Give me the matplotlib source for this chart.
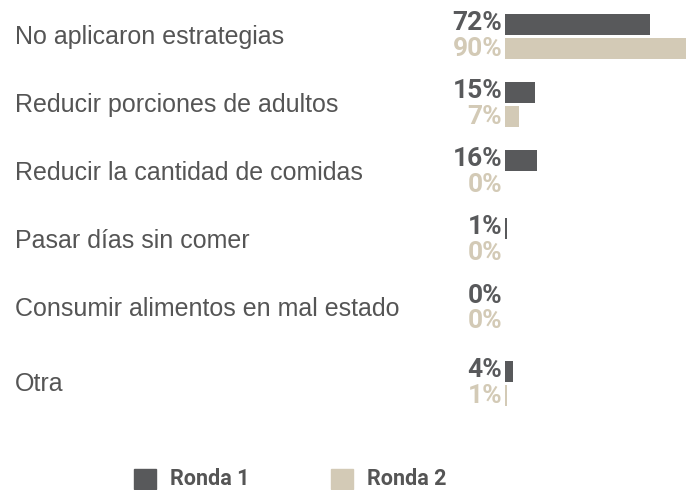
import matplotlib
matplotlib.use("Agg")
import matplotlib.pyplot as plt
from matplotlib.transforms import blended_transform_factory
from matplotlib.patches import Rectangle

categories = [
    "No aplicaron estrategias",
    "Reducir porciones de adultos",
    "Reducir la cantidad de comidas",
    "Pasar días sin comer",
    "Consumir alimentos en mal estado",
    "Otra",
]
ronda1 = [72, 15, 16, 1, 0, 4]
ronda2 = [90, 7, 0, 0, 0, 1]
series_names = ["Ronda 1", "Ronda 2"]

C1 = "#58595b"
C2 = "#d3cab6"
TXT = "#555555"

W, H = 695, 490
fig = plt.figure(figsize=(W / 100, H / 100), dpi=100)

row_px = 68.1
top_px = 24.5
ax = fig.add_axes([505 / W, 0, 201 / W, 1])
ax.set_xlim(0, 100)
ax.set_ylim((H - top_px) / row_px, -top_px / row_px)
ax.axis("off")

rows = [0, 1, 2, 3, 4, 5.1]
bh = 21 / row_px
off = 24 / row_px

ax.barh(rows, ronda1, height=bh, color=C1, align="center")
ax.barh([r + off for r in rows], ronda2, height=bh, color=C2, align="center")

for r, v1, v2 in zip(rows, ronda1, ronda2):
    ax.annotate(f"{v1}%", xy=(0, r), xytext=(-2, 1), textcoords="offset points",
                ha="right", va="center", fontsize=19, fontweight="bold",
                color=C1, family="Roboto")
    ax.annotate(f"{v2}%", xy=(0, r + off), xytext=(-2, 0), textcoords="offset points",
                ha="right", va="center", fontsize=19, fontweight="bold",
                color=C2, family="Roboto")

tr = blended_transform_factory(fig.transFigure, ax.transData)
for r, cat in zip(rows, categories):
    ax.text(15 / W, r + off / 2, cat, transform=tr, ha="left", va="center",
            fontsize=18, color=TXT, family="Liberation Sans")

for x0, c, name in [(134, C1, series_names[0]), (331, C2, series_names[1])]:
    fig.patches.append(Rectangle((x0 / W, (H - 489) / H), 22 / W, 20 / H,
                                 transform=fig.transFigure, color=c))
    fig.text((x0 + 36) / W, (H - 479) / H, name, ha="left", va="center",
             fontsize=15.5, fontweight="bold", color=TXT, family="Roboto")

fig.savefig("out.png", dpi=100)
